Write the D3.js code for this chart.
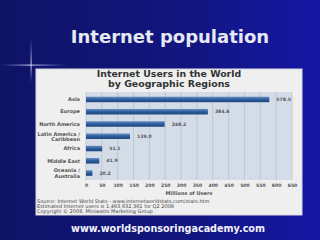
<!DOCTYPE html>
<html>
<head>
<meta charset="utf-8">
<script src="https://cdn.jsdelivr.net/npm/d3@7"></script>
<style>
  html, body { margin: 0; padding: 0; background: #11146e; }
  svg { display: block; }
</style>
</head>
<body>
<div id="chart-container"></div>
<script>
// data (millions of users, Q2 2008)
const regions = ["Asia", "Europe", "North America", "Latin America / Caribbean", "Africa", "Middle East", "Oceania / Australia"];
const users = [578.5, 384.6, 248.2, 139.0, 51.1, 41.9, 20.2];
const xTicks = [0, 50, 100, 150, 200, 250, 300, 350, 400, 450, 500, 550, 600, 650];
const sourceLines = [
    "Source: Internet World Stats - www.internetworldstats.com/stats.htm",
    "Estimated Internet users is 1,463,632,361 for Q2 2008",
    "Copyright \u00A9 2008, Miniwatts Marketing Group"
];

const width = 320, height = 240;

const svg = d3.select("#chart-container")
    .append("svg")
    .attr("width", width)
    .attr("height", height);

const defs = svg.append("defs");

// slide background, a bit brighter towards the right
const bg = defs.append("linearGradient").attr("id", "bg").attr("x1", 0).attr("x2", 1).attr("y1", 0).attr("y2", 0);
bg.append("stop").attr("offset", 0).attr("stop-color", "#0f1366");
bg.append("stop").attr("offset", 0.6).attr("stop-color", "#121680");
bg.append("stop").attr("offset", 1).attr("stop-color", "#1517a6");

const barGrad = defs.append("linearGradient").attr("id", "bar").attr("x1", 0).attr("x2", 0).attr("y1", 0).attr("y2", 1);
barGrad.append("stop").attr("offset", 0).attr("stop-color", "#6a90c4");
barGrad.append("stop").attr("offset", 0.45).attr("stop-color", "#30609f");
barGrad.append("stop").attr("offset", 1).attr("stop-color", "#1d4380");

const flareH = defs.append("linearGradient").attr("id", "flareH").attr("x1", 0).attr("x2", 1);
flareH.append("stop").attr("offset", 0).attr("stop-color", "#8fa0e0").attr("stop-opacity", 0);
flareH.append("stop").attr("offset", 0.45).attr("stop-color", "#c8d0f5").attr("stop-opacity", 0.9);
flareH.append("stop").attr("offset", 1).attr("stop-color", "#8fa0e0").attr("stop-opacity", 0);

const flareV = defs.append("linearGradient").attr("id", "flareV").attr("x1", 0).attr("x2", 0).attr("y1", 0).attr("y2", 1);
flareV.append("stop").attr("offset", 0).attr("stop-color", "#8fa0e0").attr("stop-opacity", 0);
flareV.append("stop").attr("offset", 0.6).attr("stop-color", "#c8d0f5").attr("stop-opacity", 0.9);
flareV.append("stop").attr("offset", 1).attr("stop-color", "#8fa0e0").attr("stop-opacity", 0);

svg.append("rect").attr("width", width).attr("height", height).attr("fill", "url(#bg)");

// little star flare at the panel corner
svg.append("rect").attr("x", 0).attr("y", 64.5).attr("width", 68).attr("height", 1.2).attr("fill", "url(#flareH)");
svg.append("rect").attr("x", 30.5).attr("y", 38).attr("width", 1.2).attr("height", 45).attr("fill", "url(#flareV)");

// slide title
svg.append("text")
    .attr("x", 170).attr("y", 43)
    .attr("text-anchor", "middle")
    .attr("font-family", "'DejaVu Sans', sans-serif")
    .attr("font-weight", "bold")
    .attr("font-size", 18)
    .attr("fill", "#e6e8f2")
    .text("Internet population");

// white chart panel
const panel = { x: 36, y: 69, w: 266, h: 146 };
svg.append("rect")
    .attr("x", panel.x).attr("y", panel.y)
    .attr("width", panel.w).attr("height", panel.h)
    .attr("fill", "#efefef")
    .attr("stroke", "#d8d8e0").attr("stroke-width", 1);

// chart title
svg.append("g")
    .attr("font-family", "'DejaVu Sans', sans-serif")
    .attr("font-weight", "bold")
    .attr("font-size", 9.4)
    .attr("fill", "#333")
    .attr("text-anchor", "middle")
    .selectAll("text")
    .data(["Internet Users in the World", "by Geographic Regions"])
    .join("text")
    .attr("x", 169)
    .attr("y", (d, i) => 77 + i * 9.5)
    .text(d => d);

// plot
const plot = { left: 86, right: 292, top: 92, bottom: 180 };

const x = d3.scaleLinear().domain([0, 650]).range([plot.left, plot.right]);
const y = d3.scaleBand().domain(regions).range([plot.top + 1, plot.bottom - 0.5]).paddingInner(0.55).paddingOuter(0.3);

svg.append("rect")
    .attr("x", plot.left).attr("y", plot.top)
    .attr("width", plot.right - plot.left).attr("height", plot.bottom - plot.top)
    .attr("fill", "#d4dde7");

svg.append("g")
    .attr("stroke", "#b2bfcc")
    .attr("stroke-width", 0.7)
    .selectAll("line")
    .data(xTicks)
    .join("line")
    .attr("x1", d => x(d)).attr("x2", d => x(d))
    .attr("y1", plot.top).attr("y2", plot.bottom);

svg.append("g")
    .selectAll("rect")
    .data(users)
    .join("rect")
    .attr("x", x(0))
    .attr("y", (d, i) => y(regions[i]))
    .attr("width", d => x(d) - x(0))
    .attr("height", y.bandwidth())
    .attr("fill", "url(#bar)");

// value labels
svg.append("g")
    .attr("font-family", "'DejaVu Sans', sans-serif")
    .attr("font-weight", "bold")
    .attr("font-size", 4.6)
    .attr("fill", "#556")
    .selectAll("text")
    .data(users)
    .join("text")
    .attr("x", d => x(d) + 7)
    .attr("y", (d, i) => y(regions[i]) + y.bandwidth() / 2)
    .attr("dy", "0.35em")
    .text(d => d.toFixed(1));

// category labels, split at the slash
const cat = svg.append("g")
    .attr("font-family", "'DejaVu Sans', sans-serif")
    .attr("font-weight", "bold")
    .attr("font-size", 5)
    .attr("fill", "#555")
    .attr("text-anchor", "end")
    .selectAll("text")
    .data(regions)
    .join("text")
    .attr("x", 80)
    .attr("y", d => y(d) + y.bandwidth() / 2);

cat.each(function(d) {
    const parts = d.includes(" / ") ? [d.split(" / ")[0] + " /", d.split(" / ")[1]] : [d];
    d3.select(this).selectAll("tspan")
        .data(parts)
        .join("tspan")
        .attr("x", 80)
        .attr("dy", (p, i) => i === 0 ? (parts.length > 1 ? "-0.15em" : "0.35em") : "1.05em")
        .text(p => p);
});

// x axis tick labels
const xAxis = d3.axisBottom(x).tickValues(xTicks).tickSize(0).tickPadding(4);
const gx = svg.append("g")
    .attr("transform", `translate(0,${plot.bottom})`)
    .call(xAxis);
gx.select(".domain").remove();
gx.selectAll("text")
    .attr("font-family", "'DejaVu Sans', sans-serif")
    .attr("font-weight", "bold")
    .attr("font-size", 4.6)
    .attr("fill", "#555");

svg.append("text")
    .attr("x", (plot.left + plot.right) / 2).attr("y", 195)
    .attr("text-anchor", "middle")
    .attr("font-family", "'DejaVu Sans', sans-serif")
    .attr("font-weight", "bold")
    .attr("font-size", 5)
    .attr("fill", "#555")
    .text("Millions of Users");

// source notes
svg.append("g")
    .attr("font-family", "'DejaVu Sans', sans-serif")
    .attr("font-size", 5)
    .attr("fill", "#444")
    .selectAll("text")
    .data(sourceLines)
    .join("text")
    .attr("x", 37)
    .attr("y", (d, i) => 203 + i * 5)
    .text(d => d);

// footer url
svg.append("text")
    .attr("x", 168).attr("y", 232)
    .attr("text-anchor", "middle")
    .attr("font-family", "'DejaVu Sans', sans-serif")
    .attr("font-weight", "bold")
    .attr("font-size", 10.5)
    .attr("textLength", 194)
    .attr("lengthAdjust", "spacingAndGlyphs")
    .attr("fill", "#f2f2f8")
    .text("www.worldsponsoringacademy.com");
</script>
</body>
</html>
